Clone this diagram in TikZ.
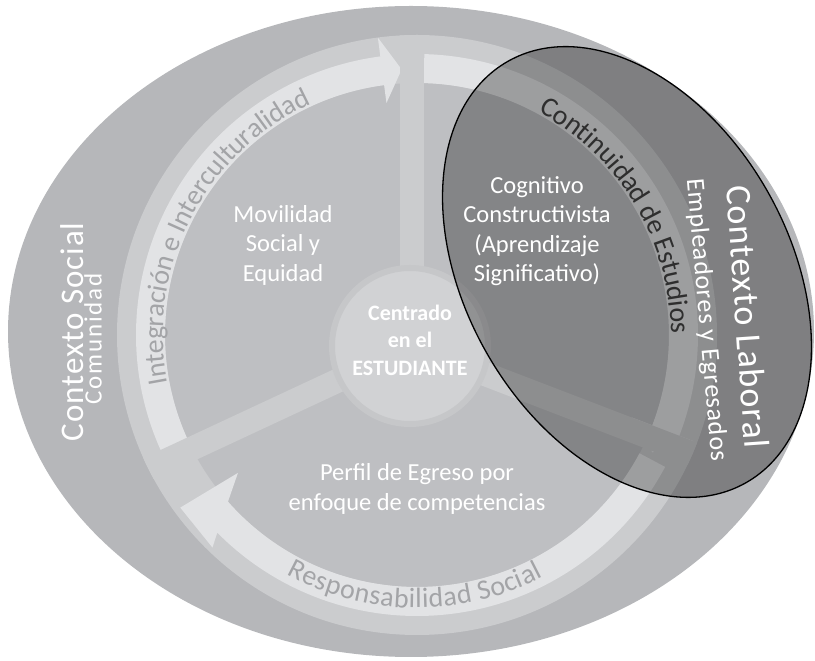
\documentclass[tikz,border=0pt]{standalone}
\usepackage{fontspec}
\setmainfont{Carlito}
\newfontfamily\spacedfont[LetterSpace=3]{Carlito}
\newfontfamily\widefont[LetterSpace=7]{Carlito}
\usetikzlibrary{decorations.text}

\definecolor{socialgray}{HTML}{B6B7BA}
\definecolor{ringgray}{HTML}{CBCCCE}
\definecolor{discgray}{HTML}{BEBFC2}
\definecolor{arrowgray}{HTML}{E2E3E5}
\definecolor{hubgray}{HTML}{D1D2D4}
\definecolor{halogray}{HTML}{C6C7C9}
\definecolor{labelgray}{HTML}{A3A4A7}
\definecolor{darklabel}{HTML}{2E2E2E}

\tikzset{
    arrowband/.style={fill=arrowgray},
    spoke/.style={draw=ringgray, line width=24pt},
    whitetext/.style={text=white, align=center, font=\fontsize{24.5}{29.5}\selectfont},
    contexttext/.style={text=white, inner sep=0pt},
    arclabel/.style={decorate, decoration={text along path, text align={fit to path}, raise=-12pt}},
}

\begin{document}
\begin{tikzpicture}[x=1pt, y=1pt]
    \useasboundingbox (0,0) rectangle (815,661);
    \coordinate (O) at (417,326);
    \coordinate (H) at (412,315);
    \coordinate (L) at (627,389);

    \fill[socialgray] (411,329.5) ellipse [x radius=403, y radius=325.5];
    \fill[ringgray] (O) circle (300);
    \fill[discgray] (O) circle (252);

    \fill[arrowband, shift={(O)}] (207:281) arc[start angle=207, end angle=97.5, radius=281]
        -- (97.5:300) -- (93.3:266) -- (97.5:234) -- (97.5:252)
        arc[start angle=97.5, end angle=207, radius=252] -- cycle;
    \fill[arrowband, shift={(O)}] (88.5:281) arc[start angle=88.5, end angle=-21, radius=281]
        -- (-21:297) -- (-26.5:263) -- (-21:230) -- (-21:252)
        arc[start angle=-21, end angle=88.5, radius=252] -- cycle;
    \fill[arrowband, shift={(O)}] (-28:281) arc[start angle=-28, end angle=-135.3, radius=281]
        -- (-133.9:295) -- (-143.9:293) -- (-142.4:226) -- (-138.6:252)
        arc[start angle=-138.6, end angle=-28, radius=252] -- cycle;

    \begin{scope}
        \clip (O) circle (300);
        \draw[spoke] (H) -- ++(90:340);
        \draw[spoke] (H) -- ++(205:340);
        \draw[spoke] (H) -- ++(-21:340);
    \end{scope}

    \node[circle, fill=hubgray, draw=halogray, line width=6pt, minimum size=156pt, inner sep=0pt] (hub) at (410,315) {};

    \path[arclabel, shift={(O)}, decoration={text={|\fontsize{28}{28}\selectfont\color{labelgray}|Integración e Interculturalidad}}]
        (191:266) arc[start angle=191, end angle=114.7, radius=266];
    \path[arclabel, shift={(O)}, decoration={raise=-7pt, text={|\fontsize{28}{28}\selectfont\color{labelgray}|Responsabilidad Social}}]
        (241.3:266) arc[start angle=241.3, end angle=297.6, radius=266];

    \draw[black, line width=1.3pt, fill=black, fill opacity=0.3, shift={(L)}, rotate=-60.6] (0,0) ellipse [x radius=242, y radius=162];

    \path[arclabel, shift={(O)}, decoration={text={|\fontsize{28}{28}\selectfont\color{darklabel}|Continuidad de Estudios}}]
        (61.4:266) arc[start angle=61.4, end angle=0.4, radius=266];

    \node[whitetext] (movilidad) at (283,416) {Movilidad\\Social y\\Equidad};
    \node[whitetext] (cognitivo) at (537,430) {Cognitivo\\Constructivista\\(Aprendizaje\\Significativo)};
    \node[whitetext] (perfil) at (417,172) {Perfil de Egreso por\\enfoque de competencias};
    \node[whitetext, font=\bfseries\fontsize{22}{27.5}\selectfont] (centrado) at (410,321) {Centrado\\en el\\ESTUDIANTE};
    \node[contexttext, rotate=90, font=\spacedfont\fontsize{33}{33}\selectfont] (social) at (72,329) {Contexto Social};
    \node[contexttext, rotate=90, font=\widefont\fontsize{25}{25}\selectfont] (comunidad) at (93,322) {Comunidad};
    \node[contexttext, rotate=-86, font=\spacedfont\fontsize{36}{36}\selectfont] (laboral) at (748,344) {Contexto Laboral};
    \node[contexttext, rotate=-85, font=\spacedfont\fontsize{26}{26}\selectfont] (empleadores) at (706,341) {Empleadores y Egresados};
\end{tikzpicture}
\end{document}
